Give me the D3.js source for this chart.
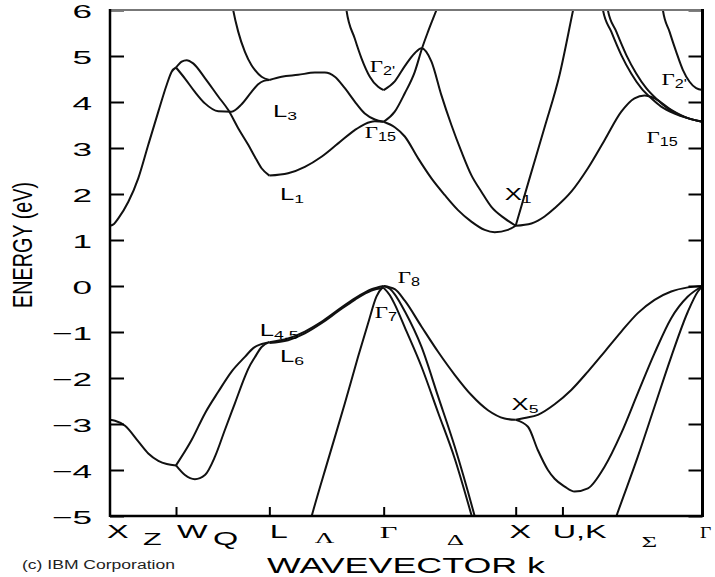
<!DOCTYPE html>
<html>
<head>
<meta charset="utf-8">
<script src="https://d3js.org/d3.v7.min.js"></script>
<style>
  body { margin: 0; background: #fff; }
  .band { fill: none; stroke: #111; stroke-width: 2; }
  .tick line { stroke: #000; stroke-width: 2; }
  .sans { font-family: "Liberation Sans", Arial, sans-serif; fill: #000; }
  .serif { font-family: "Liberation Serif", "Times New Roman", serif; fill: #000; }
</style>
</head>
<body>
<svg id="mainSVG" width="715" height="577"></svg>
<script>
// k path positions (units of 2pi/a): X, W, L, Gamma, X, U/K, Gamma
const symbolK = [0, 0.5, 1.207, 2.073, 3.073, 3.427, 4.488];
const energyTicks = d3.range(-5, 7);

// bands below 0 eV, each segment [k, E]
const valenceBands = [
  [[0,-2.91],[0.038,-2.93],[0.114,-3.04],[0.214,-3.38],[0.290,-3.64],[0.366,-3.80],[0.43,-3.87],[0.5,-3.90]],
  [[0.5,-3.90],[0.618,-3.35],[0.719,-2.77],[0.820,-2.30],[0.921,-1.86],[1.022,-1.54],[1.085,-1.35],[1.150,-1.26],[1.207,-1.22]],
  [[0.5,-3.90],[0.568,-4.11],[0.643,-4.20],[0.719,-4.11],[0.795,-3.71],[0.870,-3.13],[0.946,-2.55],[1.022,-1.97],[1.047,-1.80],[1.097,-1.55],[1.150,-1.32],[1.207,-1.22]],
  [[1.207,-1.22],[1.349,-1.14],[1.476,-0.99],[1.602,-0.78],[1.728,-0.52],[1.854,-0.27],[1.981,-0.07],[2.073,0]],
  [[1.207,-1.24],[1.349,-1.18],[1.476,-1.03],[1.602,-0.81],[1.728,-0.55],[1.854,-0.30],[1.981,-0.10],[2.073,-0.04]],
  [[1.50,-5.3],[1.527,-5.01],[1.652,-3.78],[1.779,-2.55],[1.879,-1.54],[1.955,-0.81],[2.018,-0.23],[2.073,0]],
  [[2.073,0],[2.157,-0.07],[2.233,-0.32],[2.359,-0.88],[2.485,-1.43],[2.611,-1.93],[2.737,-2.37],[2.863,-2.70],[2.989,-2.88],[3.073,-2.91]],
  [[2.073,0],[2.12,-0.06],[2.157,-0.18],[2.233,-0.55],[2.359,-1.32],[2.485,-2.40],[2.611,-3.49],[2.762,-5.0],[2.79,-5.3]],
  [[2.073,-0.04],[2.12,-0.2],[2.157,-0.4],[2.233,-0.9],[2.359,-1.75],[2.485,-2.75],[2.611,-3.75],[2.74,-5.0],[2.77,-5.3]],
  [[3.073,-2.91],[3.14,-2.87],[3.241,-2.80],[3.368,-2.57],[3.494,-2.26],[3.620,-1.86],[3.746,-1.43],[3.873,-0.99],[3.998,-0.59],[4.125,-0.30],[4.251,-0.12],[4.377,-0.03],[4.488,0]],
  [[3.073,-2.91],[3.166,-3.06],[3.241,-3.57],[3.317,-4.0],[3.368,-4.19],[3.444,-4.36],[3.519,-4.47],[3.620,-4.40],[3.746,-3.93],[3.873,-3.20],[3.998,-2.33],[4.125,-1.46],[4.251,-0.70],[4.377,-0.23],[4.488,0]],
  [[3.80,-5.3],[3.835,-5.01],[3.998,-3.71],[4.125,-2.62],[4.251,-1.54],[4.377,-0.56],[4.453,-0.12],[4.488,0]]
];

// bands above the gap
const conductionBands = [
  [[0,1.31],[0.03,1.35],[0.063,1.47],[0.139,1.83],[0.214,2.34],[0.290,3.07],[0.366,3.79],[0.429,4.37],[0.467,4.66],[0.5,4.75]],
  [[0.5,4.75],[0.543,4.88],[0.580,4.91],[0.630,4.84],[0.719,4.52],[0.820,4.12],[0.895,3.83],[0.971,3.43],[1.047,3.07],[1.097,2.81],[1.148,2.56],[1.207,2.40]],
  [[0.5,4.75],[0.568,4.51],[0.643,4.22],[0.719,3.97],[0.820,3.80],[0.921,3.79],[0.997,3.95],[1.072,4.22],[1.12,4.38],[1.165,4.46],[1.207,4.48]],
  [[0.915,6.3],[0.933,6.0],[0.971,5.53],[1.022,5.09],[1.072,4.80],[1.097,4.70],[1.148,4.55],[1.207,4.48]],
  [[1.207,4.48],[1.300,4.55],[1.425,4.59],[1.552,4.64],[1.627,4.64],[1.703,4.55],[1.779,4.30],[1.854,4.01],[1.930,3.75],[2.006,3.62],[2.073,3.57]],
  [[1.207,2.40],[1.349,2.45],[1.476,2.59],[1.602,2.81],[1.728,3.10],[1.854,3.39],[1.930,3.52],[2.006,3.58],[2.073,3.57]],
  [[1.785,6.3],[1.791,6.0],[1.854,5.38],[1.905,4.95],[1.968,4.55],[2.031,4.33],[2.073,4.26]],
  [[2.073,4.26],[2.157,4.45],[2.233,4.78],[2.308,5.06],[2.359,5.17],[2.435,4.88],[2.510,4.15],[2.586,3.50],[2.662,2.92],[2.737,2.41],[2.813,2.05],[2.889,1.72],[2.989,1.47],[3.073,1.31]],
  [[2.073,3.57],[2.157,3.79],[2.233,4.19],[2.308,4.65],[2.365,5.18],[2.409,5.53],[2.473,6.0],[2.5,6.2]],
  [[2.073,3.57],[2.157,3.45],[2.233,3.25],[2.333,2.78],[2.435,2.34],[2.535,1.98],[2.636,1.65],[2.737,1.40],[2.838,1.22],[2.914,1.17],[3.014,1.22],[3.073,1.31]],
  [[3.073,1.31],[3.192,1.36],[3.292,1.51],[3.368,1.69],[3.494,2.05],[3.620,2.56],[3.746,3.17],[3.873,3.79],[3.973,4.08],[4.049,4.14],[4.125,4.08],[4.251,3.83],[4.377,3.65],[4.488,3.57]],
  [[3.073,1.31],[3.179,2.35],[3.292,3.45],[3.406,4.6],[3.508,6.0],[3.53,6.3]],
  [[3.72,6.3],[3.734,6.0],[3.797,5.53],[3.873,5.02],[3.948,4.62],[4.024,4.30],[4.100,4.08],[4.175,3.90],[4.276,3.75],[4.377,3.65],[4.488,3.57]],
  [[3.757,6.3],[3.771,6.0],[3.835,5.53],[3.911,5.02],[3.986,4.62],[4.062,4.30],[4.138,4.07],[4.225,3.86],[4.327,3.70],[4.488,3.57]],
  [[4.175,6.3],[4.188,6.0],[4.238,5.53],[4.289,5.09],[4.339,4.70],[4.390,4.44],[4.440,4.30],[4.488,4.26]]
];

// symmetry point labels on the curves: main letter, subscript, [k, E] of left baseline
const pointLabels = [
  { main: "Γ", sub: "2'", k: 1.968, E: 4.65 },
  { main: "L", sub: "3", k: 1.234, E: 3.67 },
  { main: "Γ", sub: "15", k: 1.930, E: 3.22 },
  { main: "L", sub: "1", k: 1.287, E: 1.87 },
  { main: "X", sub: "1", k: 2.990, E: 1.87 },
  { main: "Γ", sub: "2'", k: 4.178, E: 4.37 },
  { main: "Γ", sub: "15", k: 4.064, E: 3.11 },
  { main: "Γ", sub: "8", k: 2.180, E: 0.07 },
  { main: "Γ", sub: "7", k: 2.006, E: -0.70 },
  { main: "L", sub: "4,5", k: 1.135, E: -1.09 },
  { main: "L", sub: "6", k: 1.287, E: -1.65 },
  { main: "X", sub: "5", k: 3.042, E: -2.70 }
];

// k-path labels under the axis (left edge in k), row 0 = points, row 1 = lines
const pathLabels = [
  { name: "X", k: -0.023, row: 0 }, { name: "Z", k: 0.250, row: 1 },
  { name: "W", k: 0.507, row: 0 }, { name: "Q", k: 0.780, row: 1 },
  { name: "L", k: 1.211, row: 0 }, { name: "Λ", k: 1.551, row: 1 },
  { name: "Γ", k: 2.043, row: 0 }, { name: "Δ", k: 2.551, row: 1 },
  { name: "X", k: 3.027, row: 0 }, { name: "U,K", k: 3.353, row: 0 },
  { name: "Σ", k: 4.026, row: 1 }, { name: "Γ", k: 4.470, row: 0 }
];

const svg = d3.select("#mainSVG");
const x = d3.scaleLinear().domain([0, 4.488]).range([110, 702.5]);
const y = d3.scaleLinear().domain([-5, 6]).range([516, 10]);
const greek = /[ΓΛΔΣ]/;

svg.append("clipPath").attr("id", "plotClip")
  .append("rect").attr("x", x(0)).attr("y", y(6))
  .attr("width", x(4.488) - x(0)).attr("height", y(-5) - y(6));

// bands
const line = d3.line().x(d => x(d[0])).y(d => y(d[1])).curve(d3.curveMonotoneX);
svg.append("g").attr("clip-path", "url(#plotClip)")
  .selectAll("path")
  .data(valenceBands.concat(conductionBands))
  .join("path")
  .attr("class", "band")
  .attr("d", line);

// left axis with labels
const tickSX = 1.9;
svg.append("g")
  .attr("transform", `translate(${x(0)},0)`)
  .call(d3.axisLeft(y).tickValues(energyTicks).tickSize(-14).tickPadding(0).tickFormat(d3.format("d")))
  .call(g => g.select(".domain").remove())
  .call(g => g.selectAll(".tick text")
    .attr("class", "sans")
    .attr("font-size", 18.5)
    .attr("x", -18 / tickSX)
    .attr("dy", "0.38em")
    .attr("transform", `scale(${tickSX},1)`));

// right axis ticks
svg.append("g")
  .attr("transform", `translate(${x(4.488)},0)`)
  .call(d3.axisRight(y).tickValues(energyTicks).tickSize(-14).tickFormat(""))
  .call(g => g.select(".domain").remove());

// bottom ticks at inner symmetry points
svg.append("g")
  .attr("transform", `translate(0,${y(-5)})`)
  .call(d3.axisBottom(x).tickValues(symbolK.slice(1, 6)).tickSize(-9).tickFormat(""))
  .call(g => g.select(".domain").remove());

// frame
svg.append("line").attr("x1", x(0)).attr("x2", x(4.488)).attr("y1", y(6)).attr("y2", y(6))
  .attr("stroke", "#777").attr("stroke-width", 2);
svg.append("line").attr("x1", x(0)).attr("x2", x(0)).attr("y1", y(6) - 1).attr("y2", y(-5) + 1)
  .attr("stroke", "#000").attr("stroke-width", 2.5);
svg.append("line").attr("x1", x(4.488)).attr("x2", x(4.488)).attr("y1", y(6) - 1).attr("y2", y(-5) + 1)
  .attr("stroke", "#000").attr("stroke-width", 3);
svg.append("line").attr("x1", x(0)).attr("x2", x(4.488)).attr("y1", y(-5)).attr("y2", y(-5))
  .attr("stroke", "#000").attr("stroke-width", 2.5);

// curve labels
pointLabels.forEach(d => {
  const isG = d.main === "Γ";
  const g = svg.append("g")
    .attr("transform", `translate(${x(d.k)},${y(d.E)}) scale(${isG ? 1.35 : 1.6},1)`);
  const t = g.append("text");
  t.append("tspan").attr("class", isG ? "serif" : "sans")
    .attr("font-size", isG ? 17 : 16).text(d.main);
  t.append("tspan").attr("class", "sans")
    .attr("font-size", isG ? 12 : 11).attr("dy", 3).text(d.sub);
});

// path labels under the axis
pathLabels.forEach((d, i) => {
  const isGreek = greek.test(d.name);
  const baseY = d.row === 0 ? 538 : (d.name === "Σ" ? 547 : (d.name === "Λ" ? 543 : 545));
  const sx = i === pathLabels.length - 1 ? 1.15 : 1.8;
  svg.append("g")
    .attr("transform", `translate(${x(d.k)},${baseY}) scale(${sx},1)`)
    .append("text")
    .attr("class", isGreek ? "serif" : "sans")
    .attr("font-size", isGreek ? (d.row === 0 ? 17 : 15) : (d.name === "Z" ? 17 : 18))
    .text(d.name);
});

// axis titles
svg.append("text")
  .attr("class", "sans")
  .attr("transform", `translate(32,245) rotate(-90)`)
  .attr("text-anchor", "middle")
  .attr("font-size", 28)
  .attr("textLength", 126)
  .attr("lengthAdjust", "spacingAndGlyphs")
  .text("ENERGY (eV)");

svg.append("text")
  .attr("class", "sans")
  .attr("x", 267).attr("y", 573)
  .attr("font-size", 22)
  .attr("textLength", 278)
  .attr("lengthAdjust", "spacingAndGlyphs")
  .text("WAVEVECTOR k");

svg.append("text")
  .attr("class", "sans")
  .attr("x", 22).attr("y", 569)
  .attr("font-size", 12)
  .attr("textLength", 153)
  .attr("lengthAdjust", "spacingAndGlyphs")
  .style("fill", "#222")
  .text("(c) IBM Corporation");
</script>
</body>
</html>
